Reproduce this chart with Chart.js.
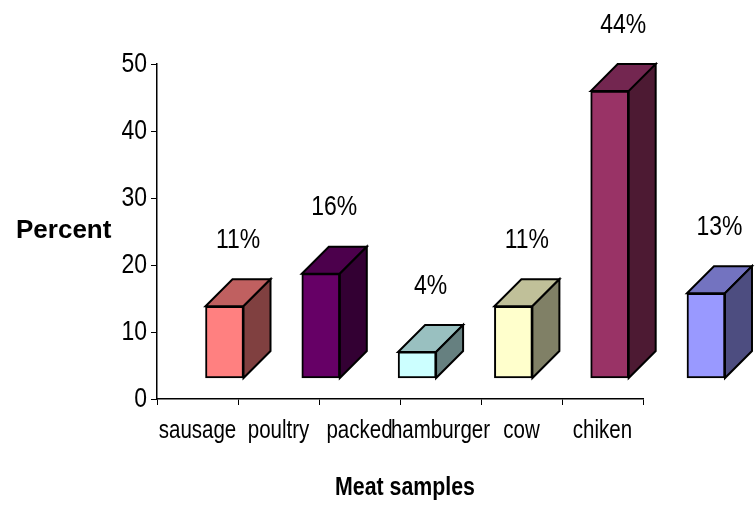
<!DOCTYPE html>
<html>
<head>
<meta charset="utf-8">
<script src="https://cdn.jsdelivr.net/npm/chart.js@4.4.1/dist/chart.umd.min.js"></script>
<style>
  html, body { margin: 0; padding: 0; background: #fff; }
  #wrap { width: 755px; height: 508px; position: relative; }
</style>
</head>
<body>
<div id="wrap"><canvas id="chart"></canvas></div>
<script>
// data
const categories = ["sausage", "poultry", "packed", "hamburger", "cow", "chiken"];
const percents = [11, 16, 4, 11, 44, 13];
const percentLabels = ["11%", "16%", "4%", "11%", "44%", "13%"];
const yTicks = [0, 10, 20, 30, 40, 50];

// colours: front, top, side
const frontColors = ["#FF8080", "#660066", "#CCFFFF", "#FFFFCC", "#993366", "#9999FF"];
const topColors = ["#C06060", "#4C004C", "#99C0C0", "#C0C099", "#732650", "#7373C0"];
const sideColors = ["#804040", "#330033", "#668080", "#808066", "#4D1A33", "#4D4D80"];

const FONT = "'Liberation Sans', Arial, sans-serif";
const NARROW = 0.82; // squeeze to look like Arial Narrow
const DEPTH_X = 27;
const DEPTH_Y = -27;

// condensed text helper
function narrowText(ctx, text, x, y, size, weight, align) {
  ctx.save();
  ctx.translate(x, y);
  ctx.scale(NARROW, 1);
  ctx.font = (weight || "normal") + " " + size + "px " + FONT;
  ctx.textAlign = align || "center";
  ctx.textBaseline = "middle";
  ctx.fillStyle = "#000";
  ctx.fillText(text, 0, 0);
  ctx.restore();
}

const boxPlugin = {
  id: "box3d",
  // top and side faces behind the front face of each bar
  beforeDatasetsDraw(chart) {
    const ctx = chart.ctx;
    const meta = chart.getDatasetMeta(0);
    ctx.save();
    ctx.lineWidth = 2;
    ctx.strokeStyle = "#000";
    meta.data.forEach((bar, i) => {
      const p = bar.getProps(["x", "y", "base", "width"], true);
      const l = p.x - p.width / 2;
      const r = p.x + p.width / 2;
      ctx.beginPath();
      ctx.moveTo(l, p.y);
      ctx.lineTo(l + DEPTH_X, p.y + DEPTH_Y);
      ctx.lineTo(r + DEPTH_X, p.y + DEPTH_Y);
      ctx.lineTo(r, p.y);
      ctx.closePath();
      ctx.fillStyle = topColors[i];
      ctx.fill();
      ctx.stroke();

      ctx.beginPath();
      ctx.moveTo(r, p.y);
      ctx.lineTo(r + DEPTH_X, p.y + DEPTH_Y);
      ctx.lineTo(r + DEPTH_X, p.base + DEPTH_Y);
      ctx.lineTo(r, p.base);
      ctx.closePath();
      ctx.fillStyle = sideColors[i];
      ctx.fill();
      ctx.stroke();
    });
    ctx.restore();
  },
  afterDraw(chart) {
    const ctx = chart.ctx;
    const meta = chart.getDatasetMeta(0);
    const xs = chart.scales.x;
    const ys = chart.scales.y;

    // value labels
    meta.data.forEach((bar, i) => {
      narrowText(ctx, percentLabels[i], bar.x + DEPTH_X / 2, bar.y + DEPTH_Y - 39, 28);
    });

    // y tick labels
    yTicks.forEach((v) => {
      narrowText(ctx, String(v), ys.left + ys.width - 10, ys.getPixelForValue(v), 28, "normal", "right");
    });

    // category labels
    categories.forEach((c, i) => {
      narrowText(ctx, c, xs.getPixelForTick(i), 431, 25);
    });

    // axis titles
    narrowText(ctx, "Meat samples", (xs.left + xs.right) / 2 + 5, 488, 26, "bold");
    ctx.save();
    ctx.font = "bold 26px " + FONT;
    ctx.fillStyle = "#000";
    ctx.textBaseline = "middle";
    ctx.fillText("Percent", 16, 231);
    ctx.restore();
  }
};

new Chart(document.getElementById("chart"), {
  type: "bar",
  data: {
    labels: categories,
    datasets: [{
      data: percents.map((v, i) => ({ x: i, y: v })),
      xAxisID: "x2",
      yAxisID: "y2",
      backgroundColor: frontColors,
      borderColor: "#000",
      borderWidth: 2,
      borderSkipped: false,
      barThickness: 38,
      clip: false
    }]
  },
  options: {
    responsive: true,
    maintainAspectRatio: false,
    animation: false,
    layout: { padding: { top: 64, right: 112, bottom: 0, left: 0 } },
    plugins: {
      legend: { display: false },
      tooltip: { enabled: false }
    },
    scales: {
      x: {
        type: "category",
        offset: true,
        grid: { offset: true, drawOnChartArea: false, tickLength: 6, color: "#000", lineWidth: 1 },
        border: { color: "#000", width: 1.5 },
        ticks: { display: false },
        afterFit: (s) => { s.height = 109; }
      },
      y: {
        min: 0,
        max: 50,
        afterBuildTicks: (s) => { s.ticks = yTicks.map((v) => ({ value: v })); },
        grid: { drawOnChartArea: false, tickLength: 6, color: "#000" },
        border: { color: "#000", width: 1.5 },
        ticks: { display: false },
        afterFit: (s) => { s.width = 157; }
      },
      // hidden scales that place the 3D boxes (they sit wider than the category axis)
      x2: { type: "linear", display: false, offset: false, min: -0.701, max: 4.346 },
      y2: { display: false, min: -3.22, max: 48.16 }
    }
  },
  plugins: [boxPlugin]
});
</script>
</body>
</html>
